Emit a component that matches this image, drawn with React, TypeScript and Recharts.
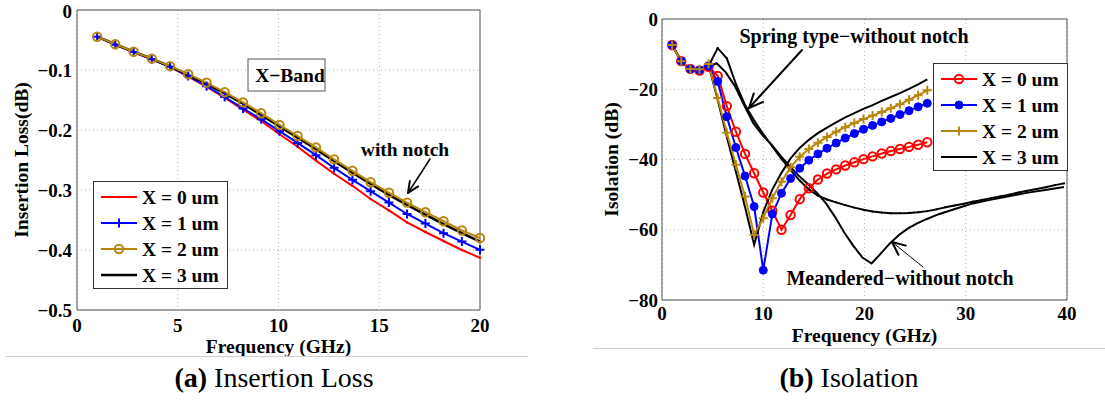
import React from "react";
import { LineChart, Line, XAxis, YAxis, CartesianGrid, ReferenceArea } from "recharts";

const FONT = "'Liberation Serif', 'DejaVu Serif', serif";
const RED = "#ff0000";
const BLUE = "#0000ff";
const GOLD = "#b8860b";
const BLACK = "#000000";

// (a) Insertion loss, GHz / dB
const lossFreq = [1.0, 1.9, 2.81, 3.71, 4.62, 5.52, 6.43, 7.33, 8.24, 9.14, 10.05, 10.95, 11.86, 12.76, 13.67, 14.57, 15.48, 16.38, 17.29, 18.19, 19.1, 20.0];
const lossX0 = [-0.0445, -0.058, -0.0702, -0.0824, -0.0947, -0.111, -0.128, -0.146, -0.166, -0.185, -0.207, -0.228, -0.251, -0.273, -0.293, -0.315, -0.334, -0.354, -0.37, -0.385, -0.4, -0.413];
const lossX1 = [-0.0445, -0.058, -0.07, -0.082, -0.0947, -0.11, -0.127, -0.145, -0.164, -0.182, -0.202, -0.2216, -0.242, -0.263, -0.283, -0.302, -0.321, -0.34, -0.356, -0.372, -0.386, -0.3997];
const lossX2 = [-0.0445, -0.057, -0.0696, -0.081, -0.0935, -0.107, -0.121, -0.137, -0.154, -0.172, -0.1915, -0.21, -0.229, -0.249, -0.268, -0.287, -0.3045, -0.321, -0.337, -0.352, -0.3675, -0.38];
const lossX3 = [-0.0445, -0.057, -0.0696, -0.081, -0.094, -0.108, -0.123, -0.139, -0.156, -0.175, -0.194, -0.213, -0.232, -0.252, -0.271, -0.29, -0.308, -0.325, -0.341, -0.357, -0.372, -0.386];
const lossXTicks = [0, 5, 10, 15, 20];
const lossYTicks = [-0.5, -0.4, -0.3, -0.2, -0.1, 0];

// (b) Isolation, GHz / dB
const isoFreq = [1.0, 1.9, 2.8, 3.7, 4.6, 5.5, 6.4, 7.3, 8.2, 9.1, 10.0, 10.9, 11.8, 12.7, 13.6, 14.5, 15.4, 16.3, 17.2, 18.1, 19.0, 19.9, 20.8, 21.7, 22.6, 23.5, 24.4, 25.3, 26.2];
const isoX0 = [-7.4, -12.0, -14.2, -14.7, -13.6, -16.2, -24.8, -32.1, -38.4, -43.9, -49.4, -54.6, -60.0, -55.8, -51.3, -48.2, -45.7, -44.0, -42.8, -41.7, -40.8, -39.9, -39.1, -38.3, -37.6, -37.0, -36.4, -35.8, -35.1];
const isoX1 = [-7.4, -12.0, -14.2, -14.5, -13.4, -17.8, -27.8, -36.6, -44.7, -53.4, -71.5, -55.5, -49.6, -45.4, -42.5, -40.2, -38.4, -36.8, -35.3, -33.9, -32.6, -31.4, -30.3, -29.3, -28.3, -27.2, -26.1, -25.0, -24.0];
const isoX2 = [-7.4, -12.0, -14.2, -14.3, -12.8, -22.5, -32.4, -41.5, -50.5, -61.5, -56.7, -51.0, -46.3, -42.2, -39.2, -37.0, -35.2, -33.6, -32.1, -30.8, -29.6, -28.5, -27.5, -26.5, -25.4, -24.3, -23.0, -21.7, -20.3];
const isoX3 = [-7.4, -12.0, -14.2, -14.3, -13.0, -23.0, -33.5, -43.5, -53.5, -64.3, -55.0, -48.5, -43.8, -39.7, -36.7, -34.4, -32.5, -30.9, -29.4, -28.0, -26.8, -25.6, -24.5, -23.3, -22.2, -21.1, -19.9, -18.6, -17.2];

// reference designs without notch
const springFreq = [1.0, 1.9, 2.8, 3.7, 4.6, 5.5, 6.4, 7.3, 8.2, 9.1, 10.0, 10.9, 11.8, 12.7, 13.6, 14.5, 15.4, 16.3, 17.2, 18.1, 19.0, 19.9, 20.8, 21.7, 22.6, 23.5, 24.4, 25.3, 26.2, 27.1, 28.0, 28.9, 29.8, 30.7, 31.6, 32.5, 33.4, 34.3, 35.2, 36.1, 37.0, 37.9, 38.8, 39.7];
const springVals = [-7.4, -12.0, -14.4, -14.8, -13.4, -8.3, -11.2, -18.5, -24.5, -28.9, -32.8, -36.3, -39.8, -43.0, -46.0, -48.5, -50.3, -51.4, -52.2, -53.0, -53.7, -54.3, -54.8, -55.1, -55.3, -55.3, -55.2, -55.0, -54.7, -54.2, -53.6, -53.1, -52.6, -52.0, -51.5, -51.0, -50.5, -50.0, -49.4, -48.9, -48.4, -47.9, -47.3, -46.8];
const meandFreq = [1.0, 1.9, 2.8, 3.7, 4.6, 5.4, 6.3, 7.2, 8.1, 9.0, 9.9, 10.8, 11.7, 12.6, 13.5, 14.4, 15.3, 16.2, 17.1, 18.0, 18.9, 19.8, 20.7, 21.6, 22.5, 23.4, 24.3, 25.2, 26.1, 27.4, 29.0, 30.7, 32.4, 34.0, 36.0, 38.0, 39.7];
const meandVals = [-7.4, -12.0, -14.4, -14.8, -13.6, -12.6, -15.2, -19.1, -24.4, -29.6, -33.0, -35.7, -38.9, -41.9, -44.6, -47.0, -49.5, -52.5, -56.4, -60.8, -64.6, -67.9, -69.6, -66.8, -63.9, -61.5, -59.6, -58.2, -57.0, -55.5, -54.0, -52.5, -51.5, -50.6, -49.5, -48.6, -47.8];
const isoXTicks = [0, 10, 20, 30, 40];
const isoYTicks = [-80, -60, -40, -20, 0];

const legendLabels = ["X = 0 um", "X = 1 um", "X = 2 um", "X = 3 um"];

const lossData = lossFreq.map((f, i) => ({ f, x0: lossX0[i], x1: lossX1[i], x2: lossX2[i], x3: lossX3[i] }));
const isoData = isoFreq.map((f, i) => ({ f, x0: isoX0[i], x1: isoX1[i], x2: isoX2[i], x3: isoX3[i] }));
const springData = springFreq.map((f, i) => ({ f, v: springVals[i] }));
const meandData = meandFreq.map((f, i) => ({ f, v: meandVals[i] }));

type Marker = "none" | "point" | "plus" | "circle" | "disc" | "tiny";

function drawMarker(kind: Marker, color: string, cx: number, cy: number, key?: string | number) {
  if (cx == null || cy == null || kind === "none") return <g key={key} />;
  if (kind === "plus") {
    const s = 4.5;
    return <path key={key} d={`M${cx - s},${cy}H${cx + s}M${cx},${cy - s}V${cy + s}`} stroke={color} strokeWidth={2} />;
  }
  if (kind === "circle") return <circle key={key} cx={cx} cy={cy} r={4.2} fill="none" stroke={color} strokeWidth={2} />;
  if (kind === "disc") return <circle key={key} cx={cx} cy={cy} r={4} fill={color} stroke={color} />;
  if (kind === "point") return <circle key={key} cx={cx} cy={cy} r={1.3} fill={color} />;
  return <circle key={key} cx={cx} cy={cy} r={1.1} fill={color} />;
}

const dotOf = (kind: Marker, color: string) => (p: any) => drawMarker(kind, color, p.cx, p.cy, p.index);

const minus = (v: number) => (v < 0 ? "\u2212" + String(Math.abs(v)) : String(v));

const tickStyle = { fill: "#000", fontSize: 19, fontWeight: "bold", fontFamily: FONT };
const titleStyle = { fill: "#000", fontSize: 19.5, fontWeight: "bold", fontFamily: FONT };

function LegendBox({ left, top, items }: { left: number; top: number; items: { color: string; marker: Marker; width: number }[] }) {
  return (
    <div style={{ position: "absolute", left, top, width: 135, height: 108, border: "1px solid #333", background: "#fff", boxSizing: "border-box" }}>
      <svg width={133} height={106} style={{ display: "block" }}>
        {items.map((it, i) => {
          const y = 15 + i * 26;
          return (
            <g key={i}>
              <line x1={7} x2={43} y1={y} y2={y} stroke={it.color} strokeWidth={it.width} />
              {drawMarker(it.marker, it.color, 25, y)}
              <text x={48} y={y} dy="0.35em" fontFamily={FONT} fontWeight="bold" fontSize={19.5} fill="#000">
                {legendLabels[i]}
              </text>
            </g>
          );
        })}
      </svg>
    </div>
  );
}

function Arrow({ x1, y1, x2, y2, w, head, hw }: { x1: number; y1: number; x2: number; y2: number; w: number; head: number; hw: number }) {
  const a = Math.atan2(y2 - y1, x2 - x1);
  const bx = x2 - head * Math.cos(a);
  const by = y2 - head * Math.sin(a);
  const px = -Math.sin(a) * head * 0.45;
  const py = Math.cos(a) * head * 0.45;
  return (
    <g fill="none" stroke="#000" strokeLinecap="round" strokeLinejoin="round">
      <line x1={x1} y1={y1} x2={x2} y2={y2} strokeWidth={w} />
      <polyline points={`${bx + px},${by + py} ${x2},${y2} ${bx - px},${by - py}`} strokeWidth={hw} />
    </g>
  );
}

export default function App() {
  return (
    <div style={{ position: "absolute", left: 0, top: 0, width: 1105, height: 402, background: "#fff", overflow: "hidden", fontFamily: FONT }}>
      {/* (a) insertion loss */}
      <div style={{ position: "absolute", left: 0, top: 0 }}>
        <LineChart width={500} height={360} data={lossData} margin={{ top: 10, right: 20, left: 0, bottom: 0 }}>
          <CartesianGrid stroke="#b4b4b4" strokeDasharray="1 3" />
          <XAxis
            type="number"
            dataKey="f"
            domain={[0, 20]}
            ticks={lossXTicks}
            height={50}
            axisLine={false}
            tickLine={false}
            tickSize={0}
            tickMargin={9}
            tick={tickStyle}
            label={{ value: "Frequency (GHz)", position: "insideTop", offset: 29, style: titleStyle }}
          />
          <YAxis
            type="number"
            domain={[-0.5, 0]}
            ticks={lossYTicks}
            width={77}
            axisLine={false}
            tickLine={false}
            tickSize={0}
            tickMargin={5}
            tick={tickStyle}
            tickFormatter={minus}
            label={{ value: "Insertion Loss(dB)", angle: -90, position: "insideLeft", offset: 21, style: { ...titleStyle, textAnchor: "middle" } }}
          />
          <ReferenceArea x1={0} x2={20} y1={-0.5} y2={0} fill="none" fillOpacity={0} stroke="#555" strokeWidth={1} />
          <Line type="linear" dataKey="x0" stroke={RED} strokeWidth={2} dot={dotOf("point", RED)} isAnimationActive={false} />
          <Line type="linear" dataKey="x1" stroke={BLUE} strokeWidth={2} dot={dotOf("plus", BLUE)} isAnimationActive={false} />
          <Line type="linear" dataKey="x3" stroke={BLACK} strokeWidth={2.5} dot={false} isAnimationActive={false} />
          <Line type="linear" dataKey="x2" stroke={GOLD} strokeWidth={2} dot={dotOf("circle", GOLD)} isAnimationActive={false} />
        </LineChart>
      </div>

      {/* (b) isolation */}
      <div style={{ position: "absolute", left: 590, top: 0 }}>
        <LineChart width={515} height={360} data={isoData} margin={{ top: 19, right: 38, left: 0, bottom: 0 }}>
          <CartesianGrid stroke="#b4b4b4" strokeDasharray="1 3" />
          <XAxis
            type="number"
            dataKey="f"
            domain={[0, 40]}
            ticks={isoXTicks}
            height={60}
            axisLine={false}
            tickLine={false}
            tickSize={0}
            tickMargin={7}
            tick={tickStyle}
            label={{ value: "Frequency (GHz)", position: "insideTop", offset: 28, style: titleStyle }}
          />
          <YAxis
            type="number"
            domain={[-80, 0]}
            ticks={isoYTicks}
            width={72}
            axisLine={false}
            tickLine={false}
            tickSize={0}
            tickMargin={4}
            tick={tickStyle}
            tickFormatter={minus}
            label={{ value: "Isolation (dB)", angle: -90, position: "insideLeft", offset: 21, style: { ...titleStyle, textAnchor: "middle" } }}
          />
          <ReferenceArea x1={0} x2={40} y1={-80} y2={0} fill="none" fillOpacity={0} stroke="#555" strokeWidth={1} />
          <Line type="linear" data={springData} dataKey="v" stroke={BLACK} strokeWidth={2} dot={dotOf("tiny", BLACK)} isAnimationActive={false} />
          <Line type="linear" data={meandData} dataKey="v" stroke={BLACK} strokeWidth={2} dot={false} isAnimationActive={false} />
          <Line type="linear" dataKey="x0" stroke={RED} strokeWidth={2} dot={dotOf("circle", RED)} isAnimationActive={false} />
          <Line type="linear" dataKey="x1" stroke={BLUE} strokeWidth={2} dot={dotOf("disc", BLUE)} isAnimationActive={false} />
          <Line type="linear" dataKey="x3" stroke={BLACK} strokeWidth={2} dot={false} isAnimationActive={false} />
          <Line type="linear" dataKey="x2" stroke={GOLD} strokeWidth={2} dot={dotOf("plus", GOLD)} isAnimationActive={false} />
        </LineChart>
      </div>

      <LegendBox
        left={93}
        top={181}
        items={[
          { color: RED, marker: "point", width: 2 },
          { color: BLUE, marker: "plus", width: 2 },
          { color: GOLD, marker: "circle", width: 2 },
          { color: BLACK, marker: "none", width: 2.5 },
        ]}
      />
      <LegendBox
        left={933}
        top={63}
        items={[
          { color: RED, marker: "circle", width: 2 },
          { color: BLUE, marker: "disc", width: 2 },
          { color: GOLD, marker: "plus", width: 2 },
          { color: BLACK, marker: "none", width: 2 },
        ]}
      />

      {/* annotations */}
      <svg width={1105} height={402} style={{ position: "absolute", left: 0, top: 0, pointerEvents: "none" }}>
        <g fontFamily={FONT} fontWeight="bold" fontSize={19.5} fill="#000">
          <rect x={248} y={59} width={77} height={32} fill="#fff" stroke="#555" strokeWidth={1} />
          <text x={290} y={75} dy="0.35em" textAnchor="middle">X−Band</text>
          <text x={405} y={149} dy="0.35em" textAnchor="middle">with notch</text>
          <text x={854} y={36} dy="0.35em" textAnchor="middle" fontSize={20}>Spring type−without notch</text>
          <text x={900} y={278} dy="0.35em" textAnchor="middle" fontSize={20}>Meandered−without notch</text>
        </g>
        <Arrow x1={430} y1={159} x2={408} y2={193} w={1.5} head={11} hw={2} />
        <Arrow x1={802} y1={50} x2={749} y2={108} w={2} head={14} hw={2} />
        <Arrow x1={923} y1={267} x2={892} y2={242} w={1} head={13} hw={2} />
      </svg>

      {/* sub-figure rules and captions */}
      <div style={{ position: "absolute", left: 6, top: 356, width: 522, height: 1, background: "#cfcfcf" }} />
      <div style={{ position: "absolute", left: 593, top: 348, width: 512, height: 1, background: "#cfcfcf" }} />
      <div style={{ position: "absolute", left: 0, width: 548, top: 363, textAlign: "center", fontSize: 28, lineHeight: "30px", whiteSpace: "nowrap", color: "#000" }}>
        <b>(a)</b> Insertion Loss
      </div>
      <div style={{ position: "absolute", left: 593, width: 512, top: 363, textAlign: "center", fontSize: 28, lineHeight: "30px", whiteSpace: "nowrap", color: "#000" }}>
        <b>(b)</b> Isolation
      </div>
    </div>
  );
}
